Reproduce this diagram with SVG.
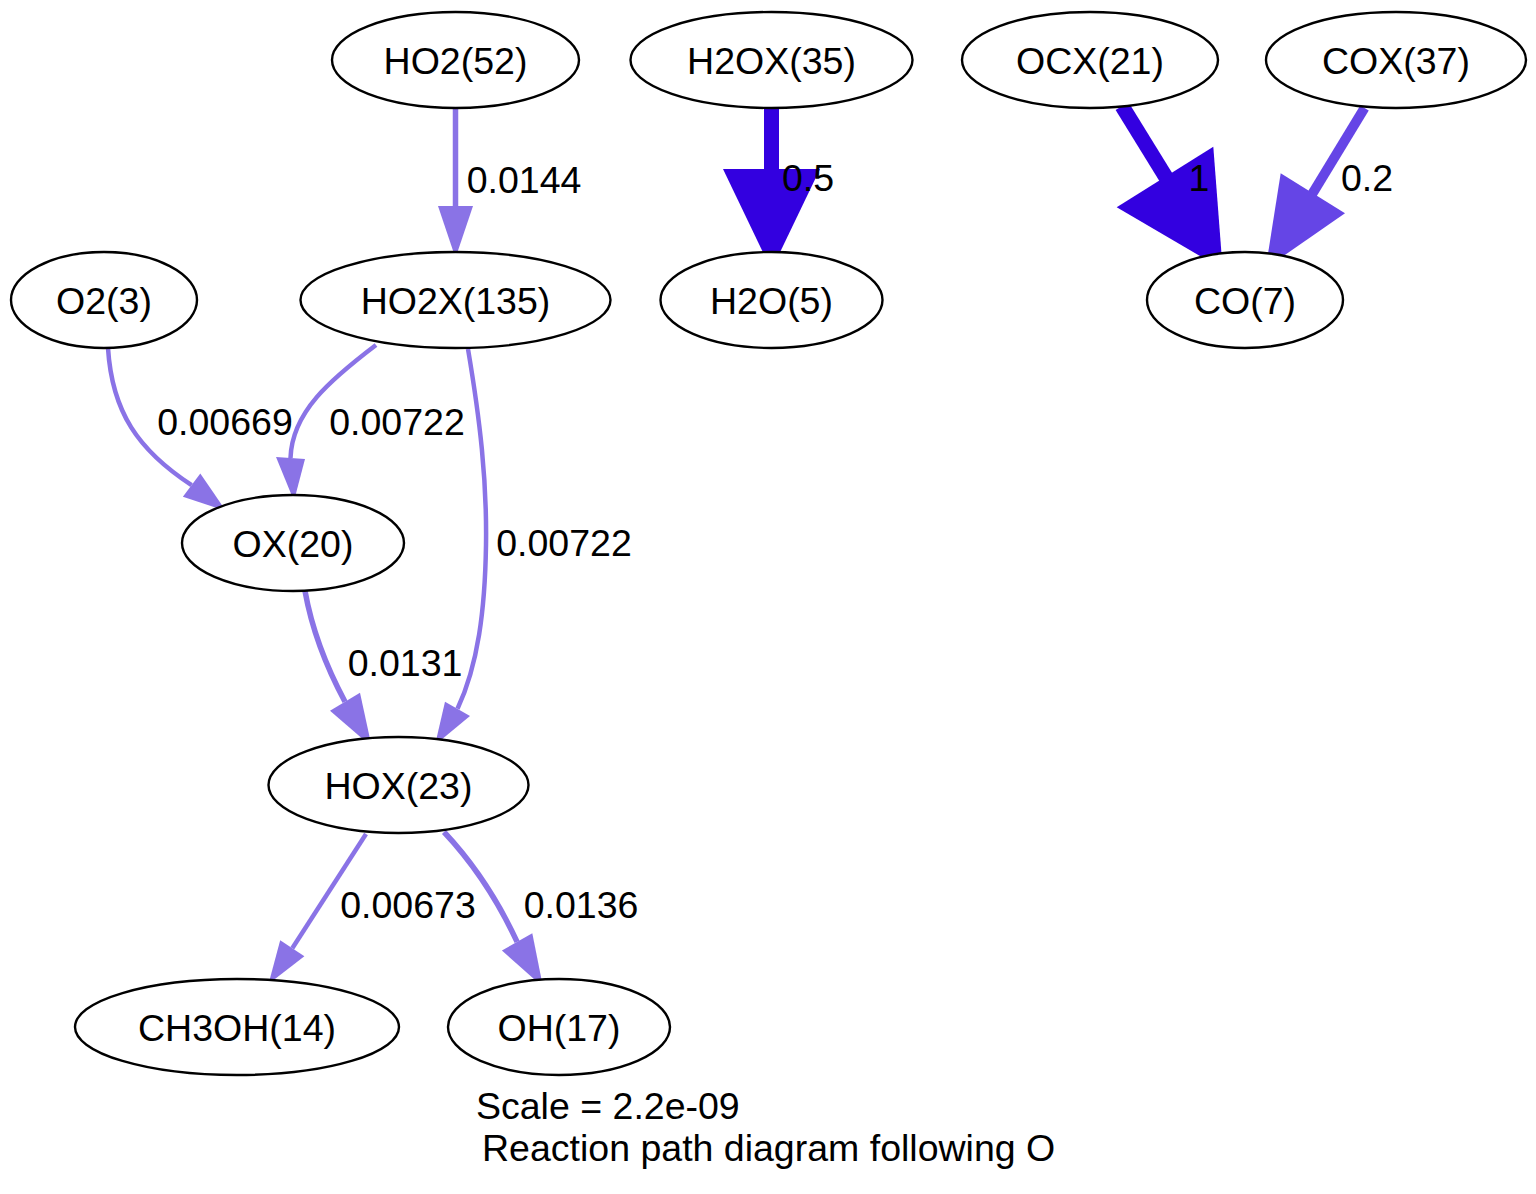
<svg xmlns="http://www.w3.org/2000/svg" width="1536" height="1194" viewBox="0 0 1536 1194">
<style>
  .node ellipse { fill: #ffffff; stroke: #000000; stroke-width: 2.4; }
  text { font-family: "Liberation Sans", Arial, Helvetica, sans-serif; font-size: 37.5px; fill: #000000; }
  .node text, .elabel { text-anchor: middle; }
  .light { stroke: #8A73E6; fill: none; }
  .lightfill { fill: #8A73E6; stroke: none; }
  .deep { stroke: #3300E0; fill: none; }
  .deepfill { fill: #3300E0; stroke: none; }
  .mid { stroke: #6545E6; fill: none; }
  .midfill { fill: #6545E6; stroke: none; }
  .w4 { stroke-width: 4.5; }
  .w5 { stroke-width: 5.5; }
</style>
<rect width="1536" height="1194" fill="#ffffff"/>

<g id="connectors">
  <!-- HO2(52) -> HO2X(135) -->
  <g id="e_HO2_HO2X">
    <path class="light w5" d="M455.5,108 L455.5,207"/>
    <polygon class="lightfill" points="438,206 473,206 455.5,258"/>
    <text class="elabel" x="524" y="193">0.0144</text>
  </g>
  <!-- O2(3) -> OX(20) -->
  <g id="e_O2_OX">
    <path class="light w4" d="M108,348 C112,412 138,450 191.6,485.2"/>
    <polygon class="lightfill" points="182.9,496.8 200.3,473.6 226,511"/>
    <text class="elabel" x="225" y="435">0.00669</text>
  </g>
  <!-- HO2X(135) -> OX(20) -->
  <g id="e_HO2X_OX">
    <path class="light w4" d="M376,345 C330,380 292,412 290.5,458"/>
    <polygon class="lightfill" points="276,457 305,459 294,501"/>
    <text class="elabel" x="397" y="435">0.00722</text>
  </g>
  <!-- HO2X(135) -> HOX(23) -->
  <g id="e_HO2X_HOX">
    <path class="light w4" d="M468,349 C480,420 487,480 486,545 C485,610 478,665 457.5,708.8"/>
    <polygon class="lightfill" points="445,701.7 470,716 435,745"/>
    <text class="elabel" x="564" y="556">0.00722</text>
  </g>
  <!-- OX(20) -> HOX(23) -->
  <g id="e_OX_HOX">
    <path class="light w5" d="M305,591 C312,630 328,670 345,701.7"/>
    <polygon class="lightfill" points="330,710.7 360,692.7 371.7,746.7"/>
    <text class="elabel" x="405" y="676">0.0131</text>
  </g>
  <!-- HOX(23) -> CH3OH(14) -->
  <g id="e_HOX_CH3OH">
    <path class="light w4" d="M366,834 L292.3,948.2"/>
    <polygon class="lightfill" points="304.4,956.2 280.2,940.2 268.5,984"/>
    <text class="elabel" x="408" y="918">0.00673</text>
  </g>
  <!-- HOX(23) -> OH(17) -->
  <g id="e_HOX_OH">
    <path class="light w5" d="M444,832 C475,865 500,905 517.1,941.9"/>
    <polygon class="lightfill" points="532.3,933.2 501.9,950.6 543,987"/>
    <text class="elabel" x="581" y="918">0.0136</text>
  </g>
  <!-- H2OX(35) -> H2O(5) -->
  <g id="e_H2OX_H2O">
    <path class="deep" stroke-width="15" d="M771.5,108 L771.5,170"/>
    <polygon class="deepfill" points="723,169 820,169 771.5,270"/>
    <text class="elabel" x="808" y="191">0.5</text>
  </g>
  <!-- OCX(21) -> CO(7) -->
  <g id="e_OCX_CO">
    <path class="deep" stroke-width="15" d="M1122,106 L1167,179"/>
    <polygon class="deepfill" points="1116.7,207.3 1213.3,146.7 1222.7,269.3"/>
    <text class="elabel" x="1199" y="191">1</text>
  </g>
  <!-- COX(37) -> CO(7) -->
  <g id="e_COX_CO">
    <path class="mid" stroke-width="10" d="M1364.5,108 L1311,196"/>
    <polygon class="midfill" points="1280.7,173.3 1345,213.3 1265.7,268.3"/>
    <text class="elabel" x="1367" y="191">0.2</text>
  </g>
</g>

<g id="n_HO2" class="node"><ellipse cx="455.5" cy="60" rx="123.5" ry="48"/><text x="455.5" y="73.5">HO2(52)</text></g>
<g id="n_H2OX" class="node"><ellipse cx="771.5" cy="60" rx="141" ry="48"/><text x="771.5" y="73.5">H2OX(35)</text></g>
<g id="n_OCX" class="node"><ellipse cx="1090" cy="60" rx="128" ry="48"/><text x="1090" y="73.5">OCX(21)</text></g>
<g id="n_COX" class="node"><ellipse cx="1396" cy="60" rx="130" ry="48"/><text x="1396" y="73.5">COX(37)</text></g>
<g id="n_O2" class="node"><ellipse cx="104" cy="300" rx="93" ry="48"/><text x="104" y="313.5">O2(3)</text></g>
<g id="n_HO2X" class="node"><ellipse cx="455.5" cy="300" rx="155" ry="48"/><text x="455.5" y="313.5">HO2X(135)</text></g>
<g id="n_H2O" class="node"><ellipse cx="771.5" cy="300" rx="111" ry="48"/><text x="771.5" y="313.5">H2O(5)</text></g>
<g id="n_CO" class="node"><ellipse cx="1245" cy="300" rx="98" ry="48"/><text x="1245" y="313.5">CO(7)</text></g>
<g id="n_OX" class="node"><ellipse cx="293" cy="543" rx="111" ry="48"/><text x="293" y="556.5">OX(20)</text></g>
<g id="n_HOX" class="node"><ellipse cx="398.5" cy="785" rx="130" ry="48"/><text x="398.5" y="798.5">HOX(23)</text></g>
<g id="n_CH3OH" class="node"><ellipse cx="237" cy="1027" rx="162" ry="48"/><text x="237" y="1040.5">CH3OH(14)</text></g>
<g id="n_OH" class="node"><ellipse cx="559" cy="1027" rx="111" ry="48"/><text x="559" y="1040.5">OH(17)</text></g>

<g id="graph_label">
  <text x="476" y="1119">Scale = 2.2e-09</text>
  <text x="482" y="1161">Reaction path diagram following O</text>
</g>
</svg>
